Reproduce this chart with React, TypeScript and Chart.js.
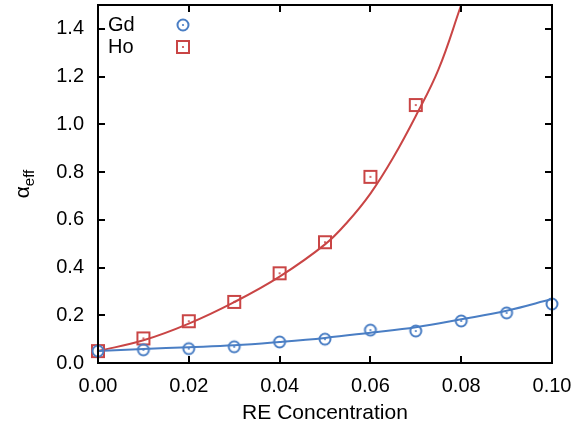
import React, { useEffect, useRef } from "react";
import { Chart, registerables } from "chart.js";

Chart.register(...registerables);

// ---- data ----
const concentrations = [0, 0.01, 0.02, 0.03, 0.04, 0.05, 0.06, 0.07, 0.08, 0.09, 0.1];
const gdAlpha = [0.05, 0.055, 0.06, 0.068, 0.088, 0.1, 0.138, 0.134, 0.176, 0.21, 0.247];
const hoConc = [0, 0.01, 0.02, 0.03, 0.04, 0.05, 0.06, 0.07];
const hoAlpha = [0.05, 0.103, 0.175, 0.256, 0.376, 0.506, 0.78, 1.081];

const gdFitX = [0, 0.01, 0.02, 0.03, 0.04, 0.05, 0.06, 0.07, 0.08, 0.09, 0.1];
const gdFitY = [0.05, 0.059, 0.066, 0.074, 0.088, 0.105, 0.127, 0.15, 0.183, 0.219, 0.268];
const hoFitX = [0, 0.01, 0.02, 0.03, 0.04, 0.05, 0.055, 0.06, 0.065, 0.07, 0.075, 0.08];
const hoFitY = [0.05, 0.095, 0.165, 0.255, 0.362, 0.497, 0.592, 0.71, 0.86, 1.035, 1.23, 1.5];

const xTickValues = [0, 0.02, 0.04, 0.06, 0.08, 0.1];
const yTickValues = [0, 0.2, 0.4, 0.6, 0.8, 1.0, 1.2, 1.4];
const seriesNames = ["Gd", "Ho"];

const BLUE = "#4a7ec4";
const RED = "#c94545";
const FONT = "'Liberation Sans', Arial, Helvetica, sans-serif";

function makeMarker(kind: "circle" | "square", color: string): HTMLCanvasElement {
  const c = document.createElement("canvas");
  c.width = 16;
  c.height = 16;
  const g = c.getContext("2d")!;
  g.strokeStyle = color;
  g.fillStyle = color;
  g.lineWidth = 2;
  if (kind === "circle") {
    g.beginPath();
    g.arc(8, 8, 5.5, 0, Math.PI * 2);
    g.stroke();
  } else {
    g.strokeRect(2, 2, 12, 12);
  }
  g.beginPath();
  g.arc(8, 8, 1.1, 0, Math.PI * 2);
  g.fill();
  return c;
}

export default function App() {
  const ref = useRef<HTMLCanvasElement | null>(null);

  useEffect(() => {
    if (!ref.current) return;
    const circ = makeMarker("circle", BLUE);
    const sq = makeMarker("square", RED);

    const framePlugin = {
      id: "frame",
      afterDatasetsDraw(chart: any) {
        const { ctx, chartArea: a, scales } = chart;
        ctx.save();
        ctx.strokeStyle = "#000";
        ctx.lineWidth = 2;
        ctx.strokeRect(a.left, a.top, a.right - a.left, a.bottom - a.top);
        const L = 7;
        ctx.beginPath();
        for (const v of xTickValues) {
          const px = Math.round(scales.x.getPixelForValue(v));
          ctx.moveTo(px, a.bottom);
          ctx.lineTo(px, a.bottom - L);
          ctx.moveTo(px, a.top);
          ctx.lineTo(px, a.top + L);
        }
        for (const v of yTickValues) {
          const py = Math.round(scales.y.getPixelForValue(v));
          ctx.moveTo(a.left, py);
          ctx.lineTo(a.left + L, py);
          ctx.moveTo(a.right, py);
          ctx.lineTo(a.right - L, py);
        }
        ctx.stroke();

        // legend
        ctx.fillStyle = "#000";
        ctx.font = `20px ${FONT}`;
        ctx.textBaseline = "middle";
        ctx.textAlign = "left";
        const markers = [circ, sq];
        seriesNames.forEach((n, i) => {
          const y = a.top + 20 + i * 22;
          ctx.fillText(n, a.left + 10, y);
          const m = markers[i];
          ctx.drawImage(m, a.left + 85 - m.width / 2, y - m.height / 2);
        });

        // y title
        ctx.save();
        ctx.translate(26, (a.top + a.bottom) / 2);
        ctx.rotate(-Math.PI / 2);
        ctx.font = `21px ${FONT}`;
        const w1 = ctx.measureText("α").width;
        ctx.font = `15px ${FONT}`;
        const w2 = ctx.measureText("eff").width;
        const start = -(w1 + w2) / 2;
        ctx.textBaseline = "alphabetic";
        ctx.font = `21px ${FONT}`;
        ctx.fillText("α", start, 3);
        ctx.font = `15px ${FONT}`;
        ctx.fillText("eff", start + w1, 8);
        ctx.restore();
        ctx.restore();
      },
    };

    const chart = new Chart(ref.current, {
      type: "scatter",
      data: {
        datasets: [
          {
            label: "Gd",
            data: concentrations.map((x, i) => ({ x, y: gdAlpha[i] })),
            pointStyle: circ as any,
            showLine: false,
            clip: false as any,
          },
          {
            label: "Ho",
            data: hoConc.map((x, i) => ({ x, y: hoAlpha[i] })),
            pointStyle: sq as any,
            showLine: false,
            clip: false as any,
          },
          {
            label: "Gd fit",
            data: gdFitX.map((x, i) => ({ x, y: gdFitY[i] })),
            showLine: true,
            borderColor: BLUE,
            borderWidth: 2,
            pointRadius: 0,
            tension: 0.4,
          },
          {
            label: "Ho fit",
            data: hoFitX.map((x, i) => ({ x, y: hoFitY[i] })),
            showLine: true,
            borderColor: RED,
            borderWidth: 2,
            pointRadius: 0,
            tension: 0.4,
          },
        ],
      },
      options: {
        animation: false,
        responsive: true,
        maintainAspectRatio: false,
        layout: { padding: { top: 5, right: 33, left: 0, bottom: 0 } },
        plugins: { legend: { display: false }, tooltip: { enabled: false } },
        scales: {
          x: {
            type: "linear",
            position: "bottom",
            min: 0,
            max: 0.1,
            afterBuildTicks: (s: any) => {
              s.ticks = xTickValues.map((v) => ({ value: v }));
            },
            afterFit: (s: any) => {
              s.height = 68;
              s.paddingLeft = 0;
              s.paddingRight = 0;
            },
            grid: { display: false, drawTicks: false },
            border: { display: false },
            ticks: {
              padding: 11,
              color: "#000",
              font: { family: FONT, size: 20 },
              maxRotation: 0,
              autoSkip: false,
              callback: (v: any) => Number(v).toFixed(2),
            },
            title: {
              display: true,
              text: "RE Concentration",
              color: "#000",
              font: { family: FONT, size: 21 },
              padding: { top: 0, bottom: 5 },
            },
          },
          y: {
            type: "linear",
            position: "left",
            min: 0,
            max: 1.5,
            afterBuildTicks: (s: any) => {
              s.ticks = yTickValues.map((v) => ({ value: v }));
            },
            afterFit: (s: any) => {
              s.width = 98;
              s.paddingTop = 0;
              s.paddingBottom = 0;
            },
            grid: { display: false, drawTicks: false },
            border: { display: false },
            ticks: {
              padding: 14,
              color: "#000",
              font: { family: FONT, size: 20 },
              autoSkip: false,
              callback: (v: any) => Number(v).toFixed(1),
            },
          },
        },
      },
      plugins: [framePlugin],
    });
    return () => chart.destroy();
  }, []);

  return (
    <div style={{ position: "fixed", left: 0, top: 0, width: 585, height: 431, background: "#fff" }}>
      <canvas ref={ref} />
    </div>
  );
}
